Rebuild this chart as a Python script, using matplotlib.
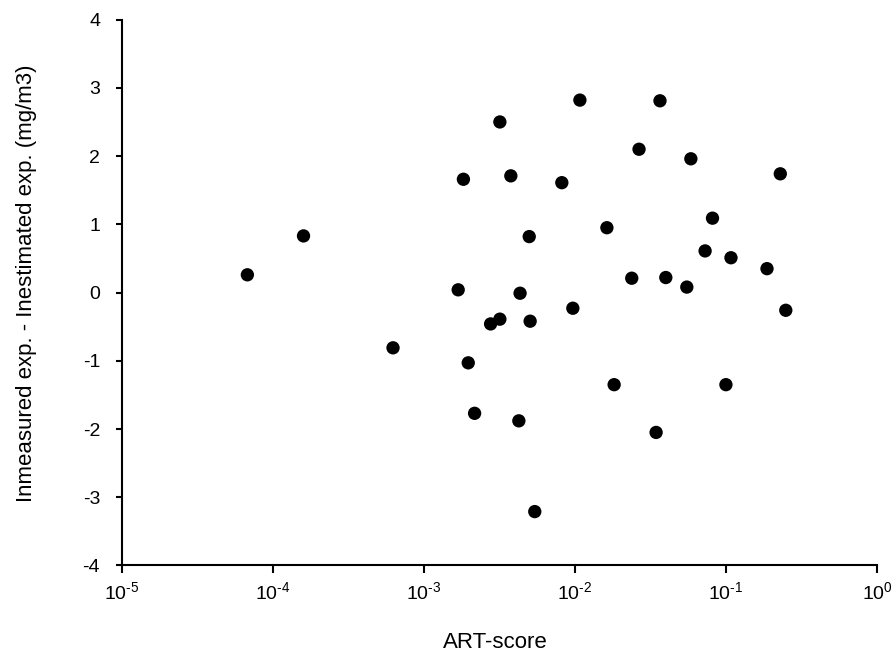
import numpy as np
import matplotlib
matplotlib.use("Agg")
import matplotlib.pyplot as plt
from matplotlib.ticker import FixedLocator, NullLocator

plt.rcParams['font.family'] = ['Liberation Sans', 'DejaVu Sans']
plt.rcParams['mathtext.fontset'] = 'custom'
plt.rcParams['mathtext.rm'] = 'Liberation Sans'
plt.rcParams['mathtext.it'] = 'Liberation Sans'
plt.rcParams['mathtext.bf'] = 'Liberation Sans'

# ART-score (log scale) vs. measured - estimated exposure difference
art_score = [6.8e-5, 1.6e-4, 6.26e-4, 1.69e-3, 1.83e-3, 1.97e-3, 2.17e-3,
             2.77e-3, 3.19e-3, 3.19e-3, 3.77e-3, 4.26e-3, 4.34e-3, 4.99e-3,
             5.06e-3, 5.43e-3, 8.2e-3, 9.7e-3, 0.0108, 0.0163, 0.0182,
             0.0238, 0.0266, 0.0345, 0.0366, 0.040, 0.0551, 0.0586, 0.0728,
             0.0815, 0.100, 0.108, 0.187, 0.229, 0.249]
diff = [0.26, 0.83, -0.81, 0.04, 1.66, -1.03, -1.77,
        -0.46, 2.50, -0.39, 1.71, -1.88, -0.01, 0.82,
        -0.42, -3.21, 1.61, -0.23, 2.82, 0.95, -1.35,
        0.21, 2.10, -2.05, 2.81, 0.22, 0.08, 1.96, 0.61,
        1.09, -1.35, 0.51, 0.35, 1.74, -0.26]

x_ticks = [1e-5, 1e-4, 1e-3, 1e-2, 1e-1, 1e0]
x_exps = ['\u20105', '\u20104', '\u20103', '\u20102', '\u20101', '0']
x_tick_labels = [r'$\mathregular{10^{%s}}$' % e for e in x_exps]
y_ticks = [-4, -3, -2, -1, 0, 1, 2, 3, 4]
y_tick_labels = ['-4', '-3', '-2', '-1', '0', '1', '2', '3', '4']

fig = plt.figure(figsize=(8.94, 6.53), dpi=100)
ax = fig.add_axes([0.136, 0.134, 0.845, 0.836])

ax.scatter(art_score, diff, s=92, c='black', edgecolors='none', zorder=3)

ax.set_xscale('log')
ax.set_xlim(1e-5, 1e0)
ax.set_ylim(-4, 4)

ax.xaxis.set_major_locator(FixedLocator(x_ticks))
ax.xaxis.set_minor_locator(NullLocator())
ax.set_xticklabels(x_tick_labels)
ax.set_yticks(y_ticks)
ax.set_yticklabels(y_tick_labels)

ax.spines['right'].set_visible(False)
ax.spines['top'].set_visible(False)
ax.spines['left'].set_linewidth(1.5)
ax.spines['bottom'].set_linewidth(1.5)
ax.tick_params(axis='x', direction='out', length=5.5, width=1.5, pad=6,
               labelsize=14, colors='black')
ax.tick_params(axis='y', direction='out', length=4.5, width=1.5, pad=11,
               labelsize=14, colors='black')

fig.text(495 / 894, 1 - 648 / 653, 'ART-score', ha='center', va='baseline',
         fontsize=16)
fig.text(27 / 894, 1 - 283 / 653,
         'Inmeasured exp. - Inestimated exp. (mg/m3)',
         ha='center', va='center', rotation=90, fontsize=16)

fig.savefig('out.png', dpi=100)
